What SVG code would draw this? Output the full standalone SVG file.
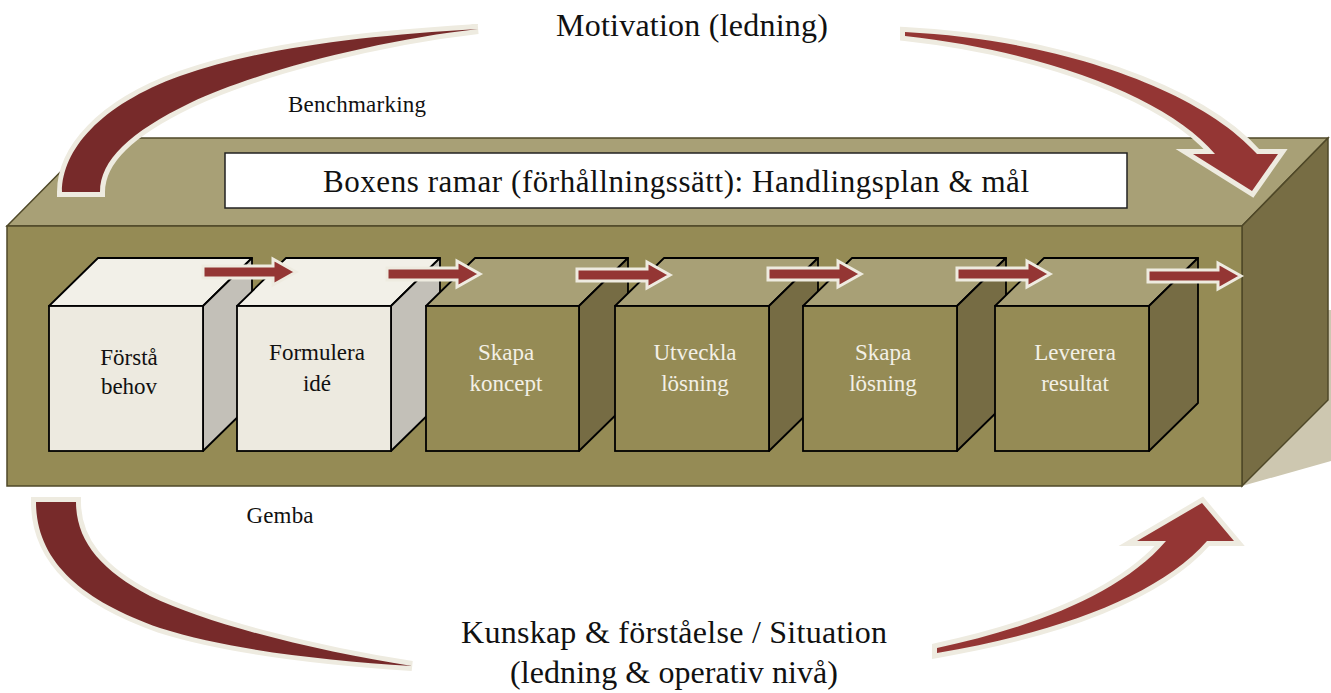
<svg xmlns="http://www.w3.org/2000/svg" width="1331" height="693" viewBox="0 0 1331 693">
  <style>
    text { font-family: "Liberation Serif", "Times New Roman", serif; text-anchor: middle; }
    .big { font-size: 32px; fill: #111; }
    .title { font-size: 31px; fill: #111; }
    .lbl { font-size: 23px; fill: #111; }
    .lbl-light { font-size: 23px; fill: #f3f0e6; }
    .box-top { fill: #a8a076; stroke: #4f4828; stroke-width: 1.5; }
    .box-front { fill: #958b55; stroke: #4f4828; stroke-width: 1.5; }
    .box-side { fill: #776d44; stroke: #4f4828; stroke-width: 1.5; }
    .c-top-l { fill: #f2f0e8; stroke: #000; stroke-width: 1.8; stroke-linejoin: round; }
    .c-front-l { fill: #edeae0; stroke: #000; stroke-width: 1.8; }
    .c-side-l { fill: #c3c0b8; stroke: #000; stroke-width: 1.8; stroke-linejoin: round; }
    .c-top-d { fill: #a8a076; stroke: #000; stroke-width: 1.8; stroke-linejoin: round; }
    .c-front-d { fill: #958b55; stroke: #000; stroke-width: 1.8; }
    .c-side-d { fill: #766c44; stroke: #000; stroke-width: 1.8; stroke-linejoin: round; }
    .halo { fill: #eeebe0; stroke: #eeebe0; stroke-width: 10; stroke-linejoin: miter; stroke-miterlimit: 6; }
    .red { fill: #943634; }
    .red-dark { fill: #772a2a; }
    .step { fill: #943634; stroke: #eeebe0; stroke-width: 3; stroke-linejoin: miter; }
  </style>
  <defs>
    <path id="step-arrow" d="M0,-6 H70 V-13 L93,0 L70,13 V6 H0 Z"/>
    <path id="arc-tl" d="M62,192 C62,150 100,105 180,76 C260,48 360,36 478,29 C380,40 260,70 190,103 C130,132 100,160 100,192 Z"/>
    <path id="arc-tr" d="M905,32 C1060,40 1200,90 1257,154 L1278,154 L1252,191 L1193,154 L1215,154 C1170,100 1050,52 905,36 Z"/>
    <path id="arc-bl" d="M36,502 C36,560 80,600 160,628 C230,650 320,660 412,666 C320,652 210,625 150,596 C100,570 76,540 76,502 Z"/>
    <path id="arc-br" d="M937,648 C1030,628 1120,595 1166,541 L1137,541 L1202,503 L1234,541 L1207,541 C1160,595 1060,632 937,653 Z"/>
  </defs>

  <!-- outer box with its shadow -->
  <g id="frame-box">
    <polygon points="1242,486 1331,461 1331,310 1328,310" fill="#cdc7b0"/>
    <polygon class="box-top" points="7,226 94,138 1328,138 1242,226"/>
    <polygon class="box-side" points="1242,226 1328,138 1328,400 1242,486"/>
    <rect class="box-front" x="7" y="226" width="1235" height="260"/>
  </g>

  <g id="frame-label">
    <rect x="225" y="153" width="902" height="55" fill="#fff" stroke="#222" stroke-width="1.5"/>
    <text class="title" x="676" y="192" textLength="706" lengthAdjust="spacing">Boxens ramar (förhållningssätt): Handlingsplan &amp; mål</text>
  </g>

  <!-- process cubes -->
  <g id="cube-1">
    <polygon class="c-top-l" points="49,306 98,258 252,258 203,306"/>
    <polygon class="c-side-l" points="203,306 252,258 252,403 203,451"/>
    <rect class="c-front-l" x="49" y="306" width="154" height="145"/>
    <text class="lbl" x="129" y="365">Förstå</text>
    <text class="lbl" x="129" y="394">behov</text>
  </g>
  <g id="cube-2">
    <polygon class="c-top-l" points="237,306 286,258 440,258 391,306"/>
    <polygon class="c-side-l" points="391,306 440,258 440,403 391,451"/>
    <rect class="c-front-l" x="237" y="306" width="154" height="145"/>
    <text class="lbl" x="317" y="360">Formulera</text>
    <text class="lbl" x="317" y="391">idé</text>
  </g>
  <g id="cube-3">
    <polygon class="c-top-d" points="426,306 475,258 628,258 579,306"/>
    <polygon class="c-side-d" points="579,306 628,258 628,403 579,451"/>
    <rect class="c-front-d" x="426" y="306" width="153" height="145"/>
    <text class="lbl-light" x="506" y="360">Skapa</text>
    <text class="lbl-light" x="506" y="391">koncept</text>
  </g>
  <g id="cube-4">
    <polygon class="c-top-d" points="615,306 664,258 818,258 769,306"/>
    <polygon class="c-side-d" points="769,306 818,258 818,403 769,451"/>
    <rect class="c-front-d" x="615" y="306" width="154" height="145"/>
    <text class="lbl-light" x="695" y="360">Utveckla</text>
    <text class="lbl-light" x="695" y="391">lösning</text>
  </g>
  <g id="cube-5">
    <polygon class="c-top-d" points="803,306 852,258 1006,258 957,306"/>
    <polygon class="c-side-d" points="957,306 1006,258 1006,403 957,451"/>
    <rect class="c-front-d" x="803" y="306" width="154" height="145"/>
    <text class="lbl-light" x="883" y="360">Skapa</text>
    <text class="lbl-light" x="883" y="391">lösning</text>
  </g>
  <g id="cube-6">
    <polygon class="c-top-d" points="995,306 1044,258 1198,258 1149,306"/>
    <polygon class="c-side-d" points="1149,306 1198,258 1198,403 1149,451"/>
    <rect class="c-front-d" x="995" y="306" width="154" height="145"/>
    <text class="lbl-light" x="1075" y="360">Leverera</text>
    <text class="lbl-light" x="1075" y="391">resultat</text>
  </g>

  <!-- connectors: step arrows and the surrounding cycle arrows -->
  <g id="connectors">
    <use href="#step-arrow" class="step" transform="translate(203,272)"/>
    <use href="#step-arrow" class="step" transform="translate(387,274)"/>
    <use href="#step-arrow" class="step" transform="translate(577,275)"/>
    <use href="#step-arrow" class="step" transform="translate(768,274)"/>
    <use href="#step-arrow" class="step" transform="translate(957,274)"/>
    <use href="#step-arrow" class="step" transform="translate(1148,276)"/>

    <use href="#arc-tl" class="halo"/>
    <use href="#arc-tl" class="red-dark"/>
    <use href="#arc-tr" class="halo"/>
    <use href="#arc-tr" class="red"/>
    <use href="#arc-bl" class="halo"/>
    <use href="#arc-bl" class="red-dark"/>
    <use href="#arc-br" class="halo"/>
    <use href="#arc-br" class="red"/>
  </g>

  <g id="labels">
    <text class="big" x="692" y="36" textLength="272" lengthAdjust="spacing">Motivation (ledning)</text>
    <text class="lbl" x="357" y="112" textLength="138" lengthAdjust="spacing">Benchmarking</text>
    <text class="lbl" x="280" y="523" textLength="67" lengthAdjust="spacing">Gemba</text>
    <text class="big" x="674" y="643" textLength="426" lengthAdjust="spacing">Kunskap &amp; förståelse / Situation</text>
    <text class="big" x="674" y="683" textLength="328" lengthAdjust="spacing">(ledning &amp; operativ nivå)</text>
  </g>
</svg>
